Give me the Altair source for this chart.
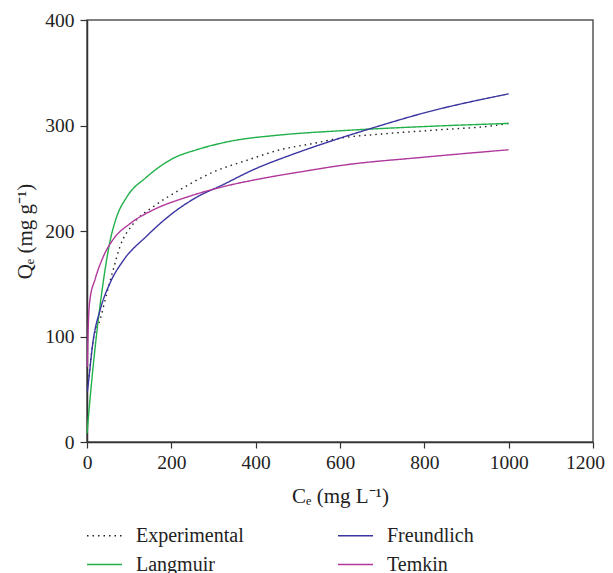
import altair as alt
import pandas as pd

exp_c = [5, 7, 15, 31, 47, 62, 78, 110, 157, 220, 300, 379, 458, 537, 600, 700, 838, 967, 1000]
exp_q = [62, 71, 97, 116, 141, 163, 185, 207, 223, 239, 256, 267, 277, 283, 288, 292, 296, 300, 302]

lang_c = [0, 7, 23, 39, 55, 70, 94, 141, 205, 260, 339, 458, 600, 800, 1000]
lang_q = [8, 40, 103, 153, 191, 213, 232, 251, 269, 277, 285, 291, 295, 299, 302]

freu_c = [1, 3, 15, 31, 55, 86, 141, 197, 260, 323, 394, 497, 600, 680, 800, 1000]
freu_q = [48, 55, 97, 125, 151, 172, 195, 215, 232, 244, 258, 274, 288, 298, 312, 330]

temk_c = [1, 3, 7, 19, 39, 62, 102, 157, 236, 323, 418, 521, 600, 800, 1000]
temk_q = [71, 110, 135, 154, 176, 192, 207, 220, 232, 242, 250, 257, 262, 270, 277]

x_ticks = [0, 200, 400, 600, 800, 1000, 1200]
y_ticks = [0, 100, 200, 300, 400]

series = ["Experimental", "Langmuir", "Freundlich", "Temkin"]
colors = ["#222222", "#22b04b", "#3a35a0", "#b0389c"]
dashes = [[1.5, 4], [1, 0], [1, 0], [1, 0]]

rows = []
for name, cs, qs in [("Experimental", exp_c, exp_q), ("Langmuir", lang_c, lang_q),
                     ("Freundlich", freu_c, freu_q), ("Temkin", temk_c, temk_q)]:
    for i, (c, q) in enumerate(zip(cs, qs)):
        rows.append({"series": name, "C": c, "Q": q, "order": i})
df = pd.DataFrame(rows)

FONT = "Liberation Serif"


def legend():
    return alt.Legend(title=None, orient="none", legendX=-1, legendY=497,
                      columns=2, columnPadding=90, rowPadding=0,
                      symbolType="stroke", symbolSize=1225, symbolStrokeWidth=1.6,
                      labelFontSize=20, labelFont=FONT, labelColor="#222",
                      labelOffset=13)


chart = alt.Chart(df).mark_line(strokeWidth=1.4, interpolate="monotone").encode(
    x=alt.X("C:Q", scale=alt.Scale(domain=[0, 1200], nice=False),
            axis=alt.Axis(values=x_ticks, format="d",
                          title="Cₑ (mg L⁻¹)", labelFlush=False,
                          labelOffset={"condition": {"test": "datum.value == 1200", "value": -8},
                                       "value": 0},
                          grid=False, tickSize=6, labelPadding=5, titlePadding=14)),
    y=alt.Y("Q:Q", scale=alt.Scale(domain=[0, 400], nice=False),
            axis=alt.Axis(values=y_ticks, format="d", title="Qₑ (mg g⁻¹)",
                          labelFlush=False,
                          grid=False, tickSize=7, labelPadding=6, titlePadding=9)),
    color=alt.Color("series:N", scale=alt.Scale(domain=series, range=colors), legend=legend()),
    strokeDash=alt.StrokeDash("series:N", scale=alt.Scale(domain=series, range=dashes),
                              legend=legend()),
    order="order:Q",
).properties(
    width=506, height=422,
    autosize=alt.AutoSizeParams(type="none"),
    padding={"left": 79, "top": 12, "right": 12, "bottom": 131},
).configure_view(
    stroke="#555555", strokeWidth=1.5,
).configure_axis(
    labelFont=FONT, labelFontSize=19.5, labelColor="#222",
    titleFont=FONT, titleFontSize=21, titleColor="#222", titleFontWeight="normal",
    domainColor="#333", domainWidth=1.5, tickColor="#333", tickWidth=1.2,
)

chart.save("out.html", embed_options={"renderer": "svg", "actions": False})
